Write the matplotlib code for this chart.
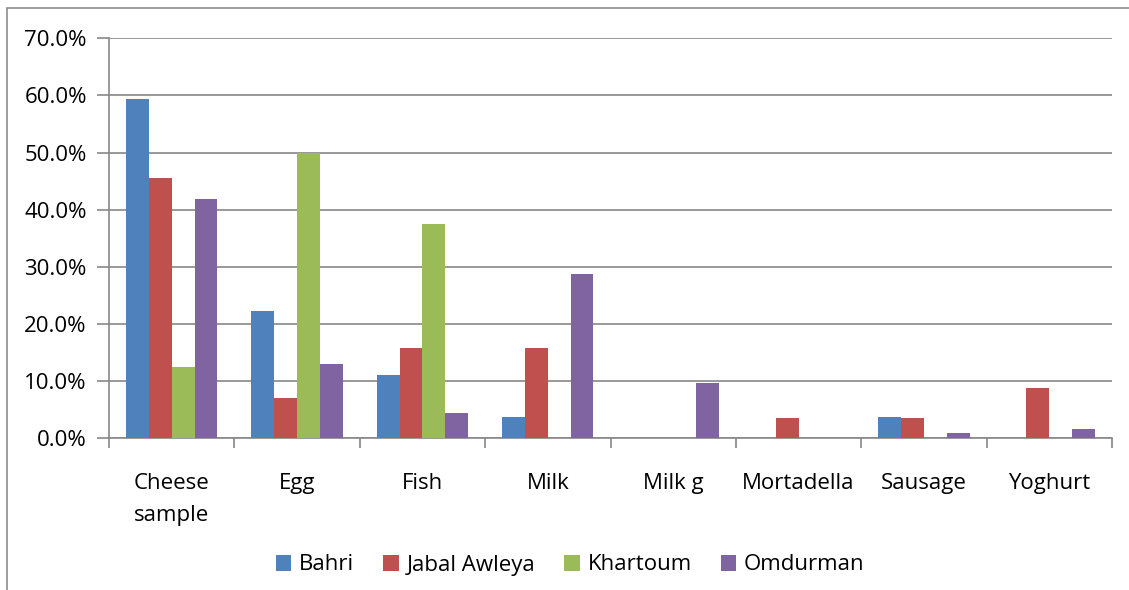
import matplotlib.pyplot as plt
import matplotlib.ticker as ticker
from matplotlib.patches import Rectangle
import numpy as np

categories = ["Cheese\nsample", "Egg", "Fish", "Milk", "Milk g", "Mortadella", "Sausage", "Yoghurt"]
bahri = [59.3, 22.2, 11.1, 3.7, 0, 0, 3.7, 0]
jabal_awleya = [45.6, 7.0, 15.8, 15.8, 0, 3.5, 3.5, 8.8]
khartoum = [12.5, 50.0, 37.5, 0, 0, 0, 0, 0]
omdurman = [41.8, 13.0, 4.4, 28.8, 9.7, 0, 0.9, 1.7]

series = [("Bahri", bahri, "#4F81BD"),
          ("Jabal Awleya", jabal_awleya, "#C0504D"),
          ("Khartoum", khartoum, "#9BBB59"),
          ("Omdurman", omdurman, "#8064A2")]

plt.rcParams['font.family'] = ['Open Sans', 'DejaVu Sans']

fig = plt.figure(figsize=(11.29, 5.9), dpi=100)
W, H = 1129, 590
ax = fig.add_axes([109 / W, 1 - 438.3 / H, (1112 - 109) / W, (438.3 - 38.3) / H])

# outer chart border
fig.patches.append(Rectangle((7 / W, -0.1), 1.2, 1 - 8 / H + 0.1, transform=fig.transFigure,
                             fill=False, edgecolor="#8c8c8c", linewidth=1.2))

x = np.arange(len(categories))
bw = 0.182
for i, (name, vals, col) in enumerate(series):
    ax.bar(x + (i - 1.5) * bw, vals, bw, color=col, label=name, zorder=3)

ax.set_xlim(-0.5, len(categories) - 0.5)
ax.set_ylim(0, 70)
ax.yaxis.set_major_locator(ticker.MultipleLocator(10))
ax.yaxis.set_major_formatter(ticker.FormatStrFormatter('%.1f%%'))
ax.grid(axis='y', color="#888888", linewidth=1.2, zorder=0)

ax.set_xticks(x)
ax.set_xticklabels(categories, fontsize=16, linespacing=1.7, va='top')
ax.set_xticks(np.arange(-0.5, len(categories)), minor=True)
ax.tick_params(axis='x', which='major', length=0, pad=25)
ax.tick_params(axis='x', which='minor', length=7, color="#888888", width=1.2)
ax.tick_params(axis='y', length=9, color="#888888", width=1.2, labelsize=16, pad=7)

for s in ['top', 'right']:
    ax.spines[s].set_visible(False)
for s in ['left', 'bottom']:
    ax.spines[s].set_color("#888888")
    ax.spines[s].set_linewidth(1.2)

handles, labels = ax.get_legend_handles_labels()
fig.legend(handles, labels, loc='center', bbox_to_anchor=(0.505, 1 - 565 / H), ncol=4, frameon=False,
           fontsize=16, handlelength=0.7, handleheight=0.7, handletextpad=0.35, columnspacing=1.3)

fig.savefig("out.png", dpi=100)
